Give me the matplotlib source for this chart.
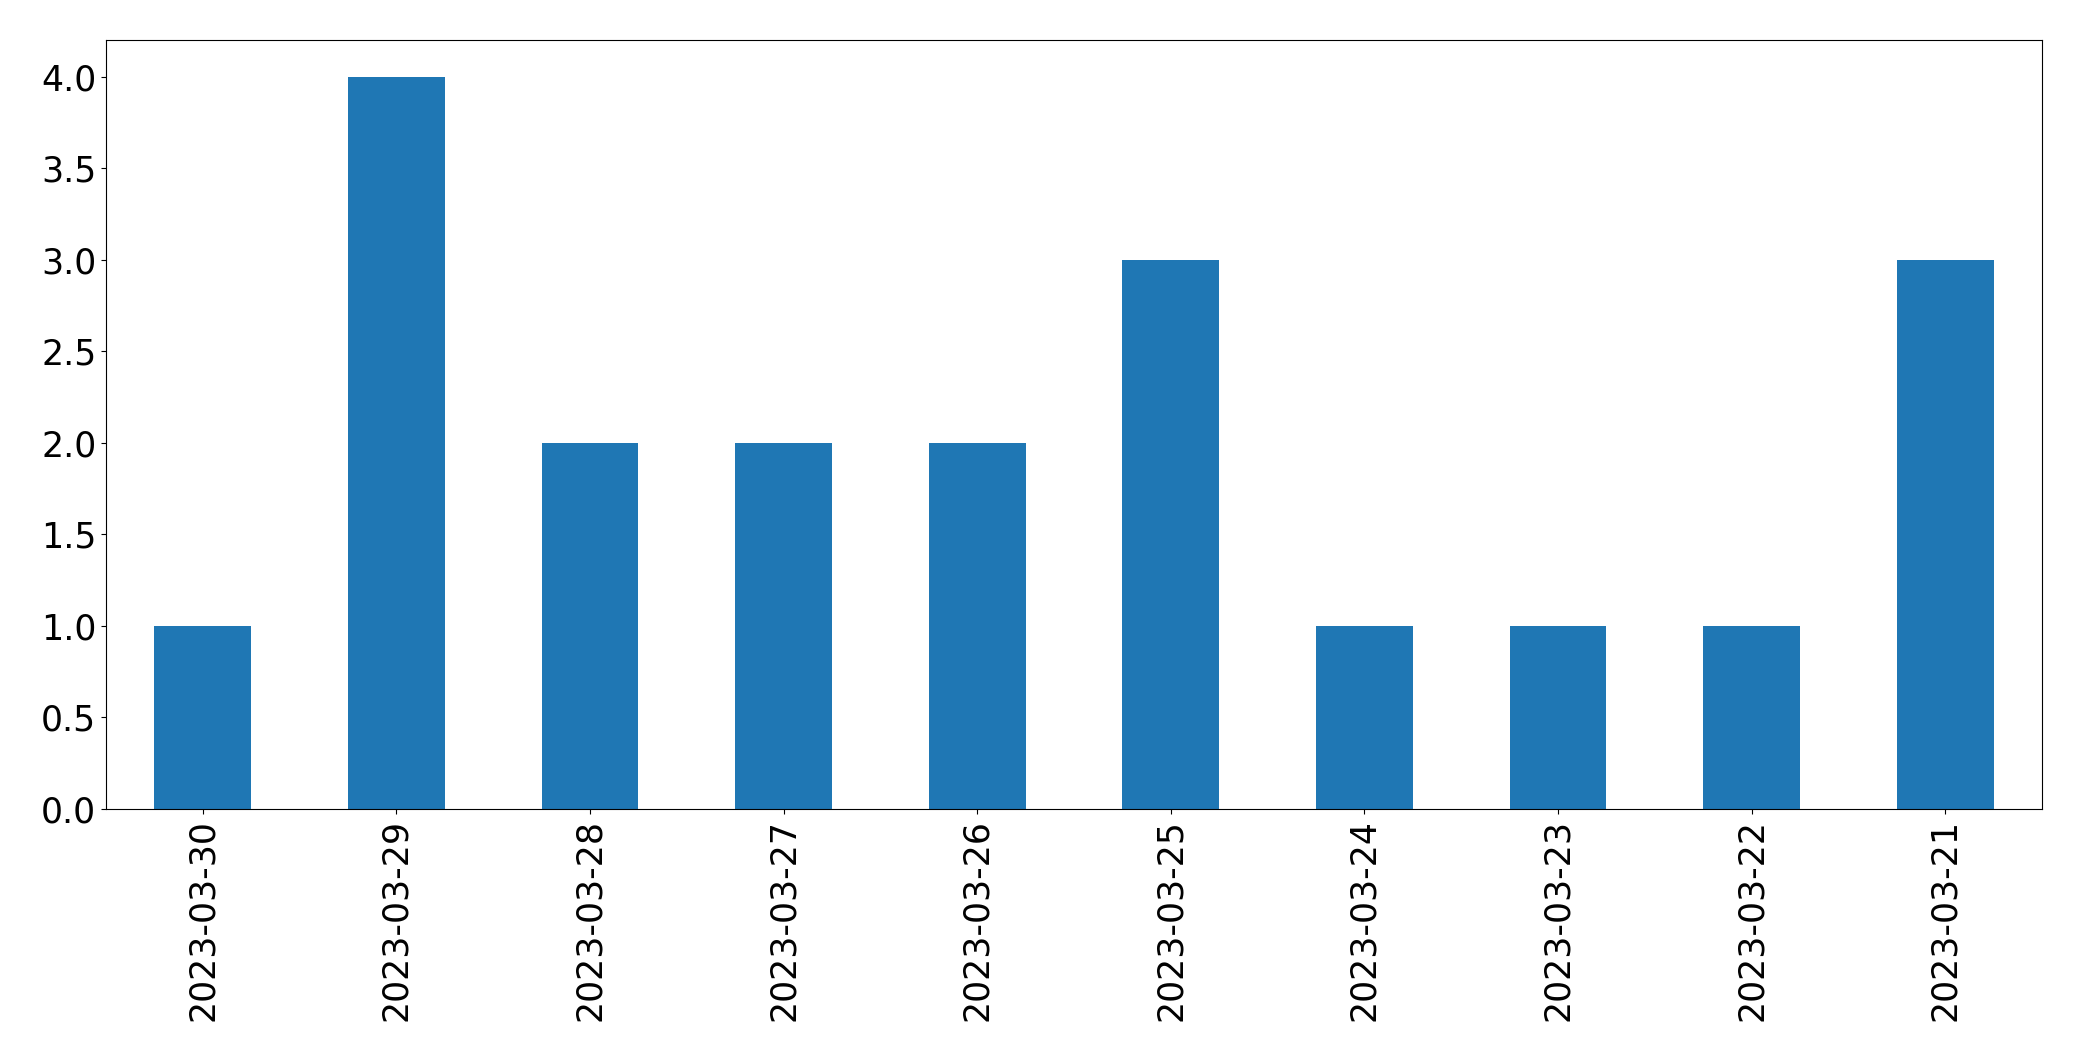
import matplotlib
matplotlib.use("Agg")
import matplotlib.pyplot as plt

dates = ["2023-03-30", "2023-03-29", "2023-03-28", "2023-03-27", "2023-03-26",
         "2023-03-25", "2023-03-24", "2023-03-23", "2023-03-22", "2023-03-21"]
counts = [1, 4, 2, 2, 2, 3, 1, 1, 1, 3]

fig = plt.figure(figsize=(20.82, 10.61), dpi=100)
ax = fig.add_axes([106/2082, 1 - 809/1061, (2042-106)/2082, (809-40)/1061])
x = list(range(len(dates)))
ax.bar(x, counts, width=0.5, color="#1f77b4")
ax.set_xlim(-0.5, len(dates) - 0.5)
ax.set_xticks(x)
ax.set_xticklabels(dates, rotation=90)
ax.tick_params(labelsize=25)
ax.set_ylim(0, 4.2)
fig.savefig("out.png", dpi=100)
